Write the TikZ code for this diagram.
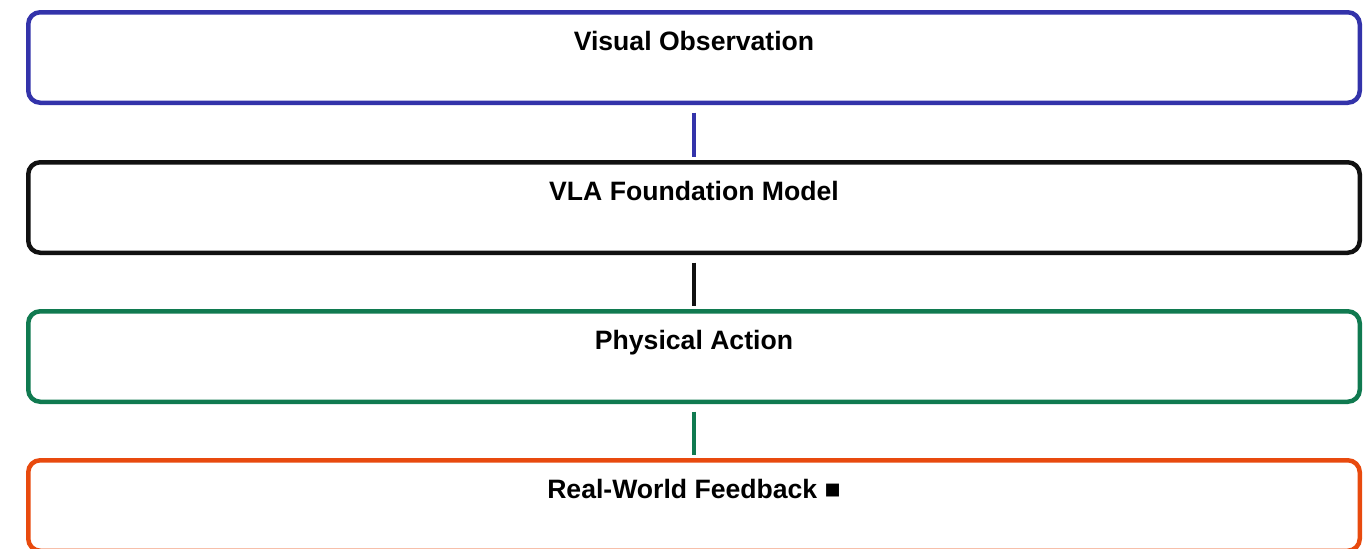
\documentclass[tikz,border=0pt]{standalone}
\usepackage{fontspec}
\setmainfont{Liberation Sans}
\definecolor{obsblue}{RGB}{51,51,170}
\definecolor{modelblack}{RGB}{17,17,17}
\definecolor{actgreen}{RGB}{16,122,80}
\definecolor{fborange}{RGB}{232,74,14}
\begin{document}
\begin{tikzpicture}[
	stage/.style = {draw, line width=2.25pt, rounded corners=6pt, minimum width=665.75pt, minimum height=45.25pt, inner sep=0pt},
	stagetext/.style = {font=\bfseries\fontsize{13.3}{15}\selectfont, anchor=base, text=black},
	link/.style = {line width=1.75pt, shorten <=3.75pt, shorten >=1.5pt}
	]
	\useasboundingbox (0,0) rectangle (683pt,274pt);
	
	\node [stage, obsblue] (obs) at (347pt, 245.25pt) {};
	\node [stage, modelblack] (vla) at (347pt, 170.25pt) {};
	\node [stage, actgreen] (act) at (347pt, 95.75pt) {};
	\node [stage, fborange] (fb) at (347pt, 21.25pt) {};
	
	\node [stagetext] (obstext) at ([yshift=-20.25pt]obs.north) {Visual Observation};
	\node [stagetext] (vlatext) at ([yshift=-20.25pt]vla.north) {VLA Foundation Model};
	\node [stagetext] (acttext) at ([yshift=-20.25pt]act.north) {Physical Action};
	\node [stagetext] (fbtext) at ([yshift=-20.25pt]fb.north) {Real-World Feedback ■};
	
	\draw [link, obsblue] (obs.south) -- (vla.north);
	\draw [link, modelblack] (vla.south) -- (act.north);
	\draw [link, actgreen] (act.south) -- (fb.north);
\end{tikzpicture}
\end{document}
